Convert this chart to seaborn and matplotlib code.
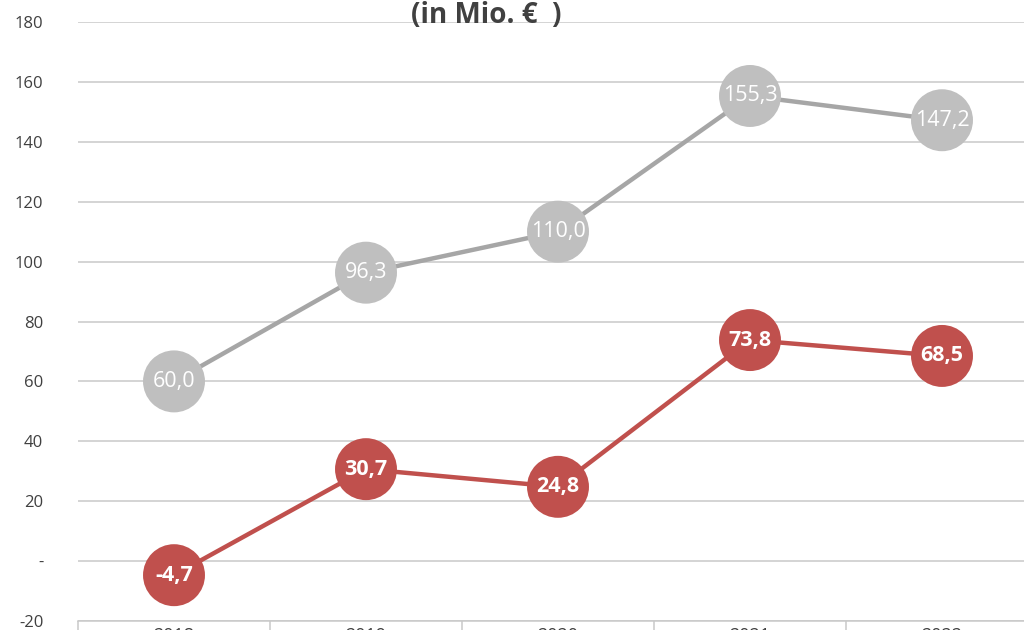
import matplotlib
matplotlib.use("Agg")
import matplotlib.pyplot as plt
import pandas as pd
import seaborn as sns
from matplotlib.ticker import FuncFormatter

# data
years = ["2018", "2019", "2020", "2021", "2022"]
upper_values = [60.0, 96.3, 110.0, 155.3, 147.2]
lower_values = [-4.7, 30.7, 24.8, 73.8, 68.5]
title_text = "(in Mio. €  )"

GREY_LINE = "#a6a6a6"
GREY_DOT = "#bfbfbf"
RED = "#c0504d"
TEXT = "#404040"
GRID = "#c9c9c9"

sns.set_theme(style="white")
plt.rcParams["font.family"] = ["Open Sans", "DejaVu Sans"]

df = pd.DataFrame({
    "pos": list(range(len(years))) * 2,
    "value": upper_values + lower_values,
    "series": ["upper"] * len(years) + ["lower"] * len(years),
})

fig = plt.figure(figsize=(10.24, 6.30), dpi=100)
ax = fig.add_axes([78 / 1024, 9 / 630, 960 / 1024, 599 / 630])

sns.lineplot(data=df, x="pos", y="value", hue="series",
             palette={"upper": GREY_LINE, "lower": RED},
             linewidth=3.2, legend=False, ax=ax, zorder=3)
sns.scatterplot(data=df, x="pos", y="value", hue="series",
                palette={"upper": GREY_DOT, "lower": RED},
                s=1990, linewidth=0, legend=False, ax=ax, zorder=4)

for x, v in enumerate(upper_values):
    ax.text(x, v, f"{v:.1f}".replace(".", ","), ha="center", va="center",
            color="white", fontsize=15.5, zorder=5)
for x, v in enumerate(lower_values):
    ax.text(x, v, f"{v:.1f}".replace(".", ","), ha="center", va="center",
            color="white", fontsize=15.5, fontweight="bold", zorder=5)

ax.set_xlim(-0.5, 4.5)
ax.set_ylim(-20, 180)
ax.set_yticks(range(-20, 181, 20))
ax.yaxis.set_major_formatter(FuncFormatter(lambda v, _: "-" if v == 0 else f"{v:.0f}"))
ax.grid(axis="y", color=GRID, linewidth=1.1)
ax.set_axisbelow(True)

# year labels sit just below the frame, mostly cut off as in the source
ax.set_xticks(range(len(years)))
ax.set_xticklabels(years)
ax.set_xticks([i - 0.5 for i in range(len(years) + 1)], minor=True)
ax.tick_params(axis="x", which="major", bottom=False, pad=-2, labelsize=13, labelcolor=TEXT)
ax.tick_params(axis="x", which="minor", bottom=True, length=12, width=1.1,
               color=GRID, direction="out")
ax.tick_params(axis="y", length=0, pad=25, labelsize=12, labelcolor=TEXT)
ax.set_xlabel("")
ax.set_ylabel("")

for side in ["top", "right", "left"]:
    ax.spines[side].set_visible(False)
ax.spines["bottom"].set_color(GRID)
ax.spines["bottom"].set_linewidth(1.1)

fig.text(486 / 1024, 1 - 23 / 630, title_text, ha="center", va="baseline",
         fontsize=20, fontweight="bold", color=TEXT)

fig.savefig("out.png", dpi=100)
